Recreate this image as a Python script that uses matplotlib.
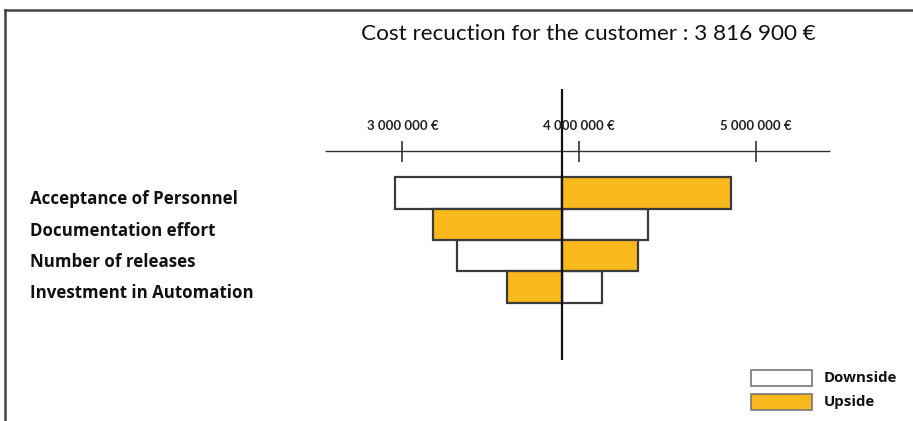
import numpy as np
import matplotlib
matplotlib.use("Agg")
import matplotlib.pyplot as plt
from matplotlib.patches import Rectangle
from matplotlib.lines import Line2D

# data
title = "Cost recuction for the customer : 3 816 900 €"
factors = ["Acceptance of Personnel", "Documentation effort",
           "Number of releases", "Investment in Automation"]
base_value = 3_903_000   # centre line as drawn in the picture
downside = [2_958_000, 4_388_000, 3_310_000, 4_131_000]
upside = [4_858_000, 3_175_000, 4_335_000, 3_593_000]
tick_values = [3_000_000, 4_000_000, 5_000_000]
tick_labels = ["3 000 000 €", "4 000 000 €", "5 000 000 €"]
legend_labels = ["Downside", "Upside"]

W, H = 913, 421
orange = "#F9B81B"
edge = "#3a3a3a"
font = "Lato"
label_font = "Open Sans"

fig = plt.figure(figsize=(W / 100, H / 100), dpi=100)
ax = fig.add_axes([0, 0, 1, 1])
ax.axis("off")
ax.set_xlim(721_800, 5_890_200)
ax.set_ylim(7.284, -6.166)

def px(x, y):
    # pixel position -> figure fraction
    return x / W, 1 - y / H

y = np.arange(len(factors))
ax.barh(y, np.array(downside) - base_value, left=base_value, height=1.0,
        color="white", edgecolor=edge, linewidth=1.6, zorder=2)
ax.barh(y, np.array(upside) - base_value, left=base_value, height=1.0,
        color=orange, edgecolor=edge, linewidth=1.6, zorder=2)

# centre line
ax.vlines(base_value, -3.32, 5.34, color="#111111", linewidth=1.6, zorder=3)

# scale on top
ax.hlines(-1.351, 2_561_600, 5_420_300, color="#333333", linewidth=1.0)
for v, lab in zip(tick_values, tick_labels):
    ax.vlines(v, -1.66, -0.99, color="#333333", linewidth=1.2)
    ax.text(v, -2.14, lab, ha="center", va="center", fontsize=9.5,
            fontweight="bold", family=font, color="#222222")

# factor labels
for yi, name in zip(y, factors):
    ax.text(30 / W, yi + 0.2, name, transform=ax.get_yaxis_transform(),
            ha="left", va="center", fontsize=12.2, fontweight="bold",
            family=label_font, color="#111111")

# title
tx, ty = px(588, 39.5)
fig.text(tx, ty, title, ha="center", va="baseline", fontsize=16.2,
         family=font, color="#111111")

# legend
for i, (lab, col) in enumerate(zip(legend_labels, ["white", orange])):
    top = 369.5 + i * 24.5
    x0, y0 = px(751, top + 16)
    fig.add_artist(Rectangle((x0, y0), 61 / W, 16 / H, transform=fig.transFigure,
                             facecolor=col, edgecolor="#777777", linewidth=1.2))
    lx, ly = px(824, top + 8)
    fig.text(lx, ly, lab, ha="left", va="center", fontsize=10.8,
             fontweight="bold", family=label_font, color="#111111")

# frame lines of the screenshot
fig.add_artist(Line2D([5 / W, 5 / W], [0, 1 - 10 / H], transform=fig.transFigure,
                      color="#444444", linewidth=1.8))
fig.add_artist(Line2D([5 / W, 1], [1 - 10 / H, 1 - 10 / H], transform=fig.transFigure,
                      color="#444444", linewidth=1.8))

fig.savefig("out.png", dpi=100)
